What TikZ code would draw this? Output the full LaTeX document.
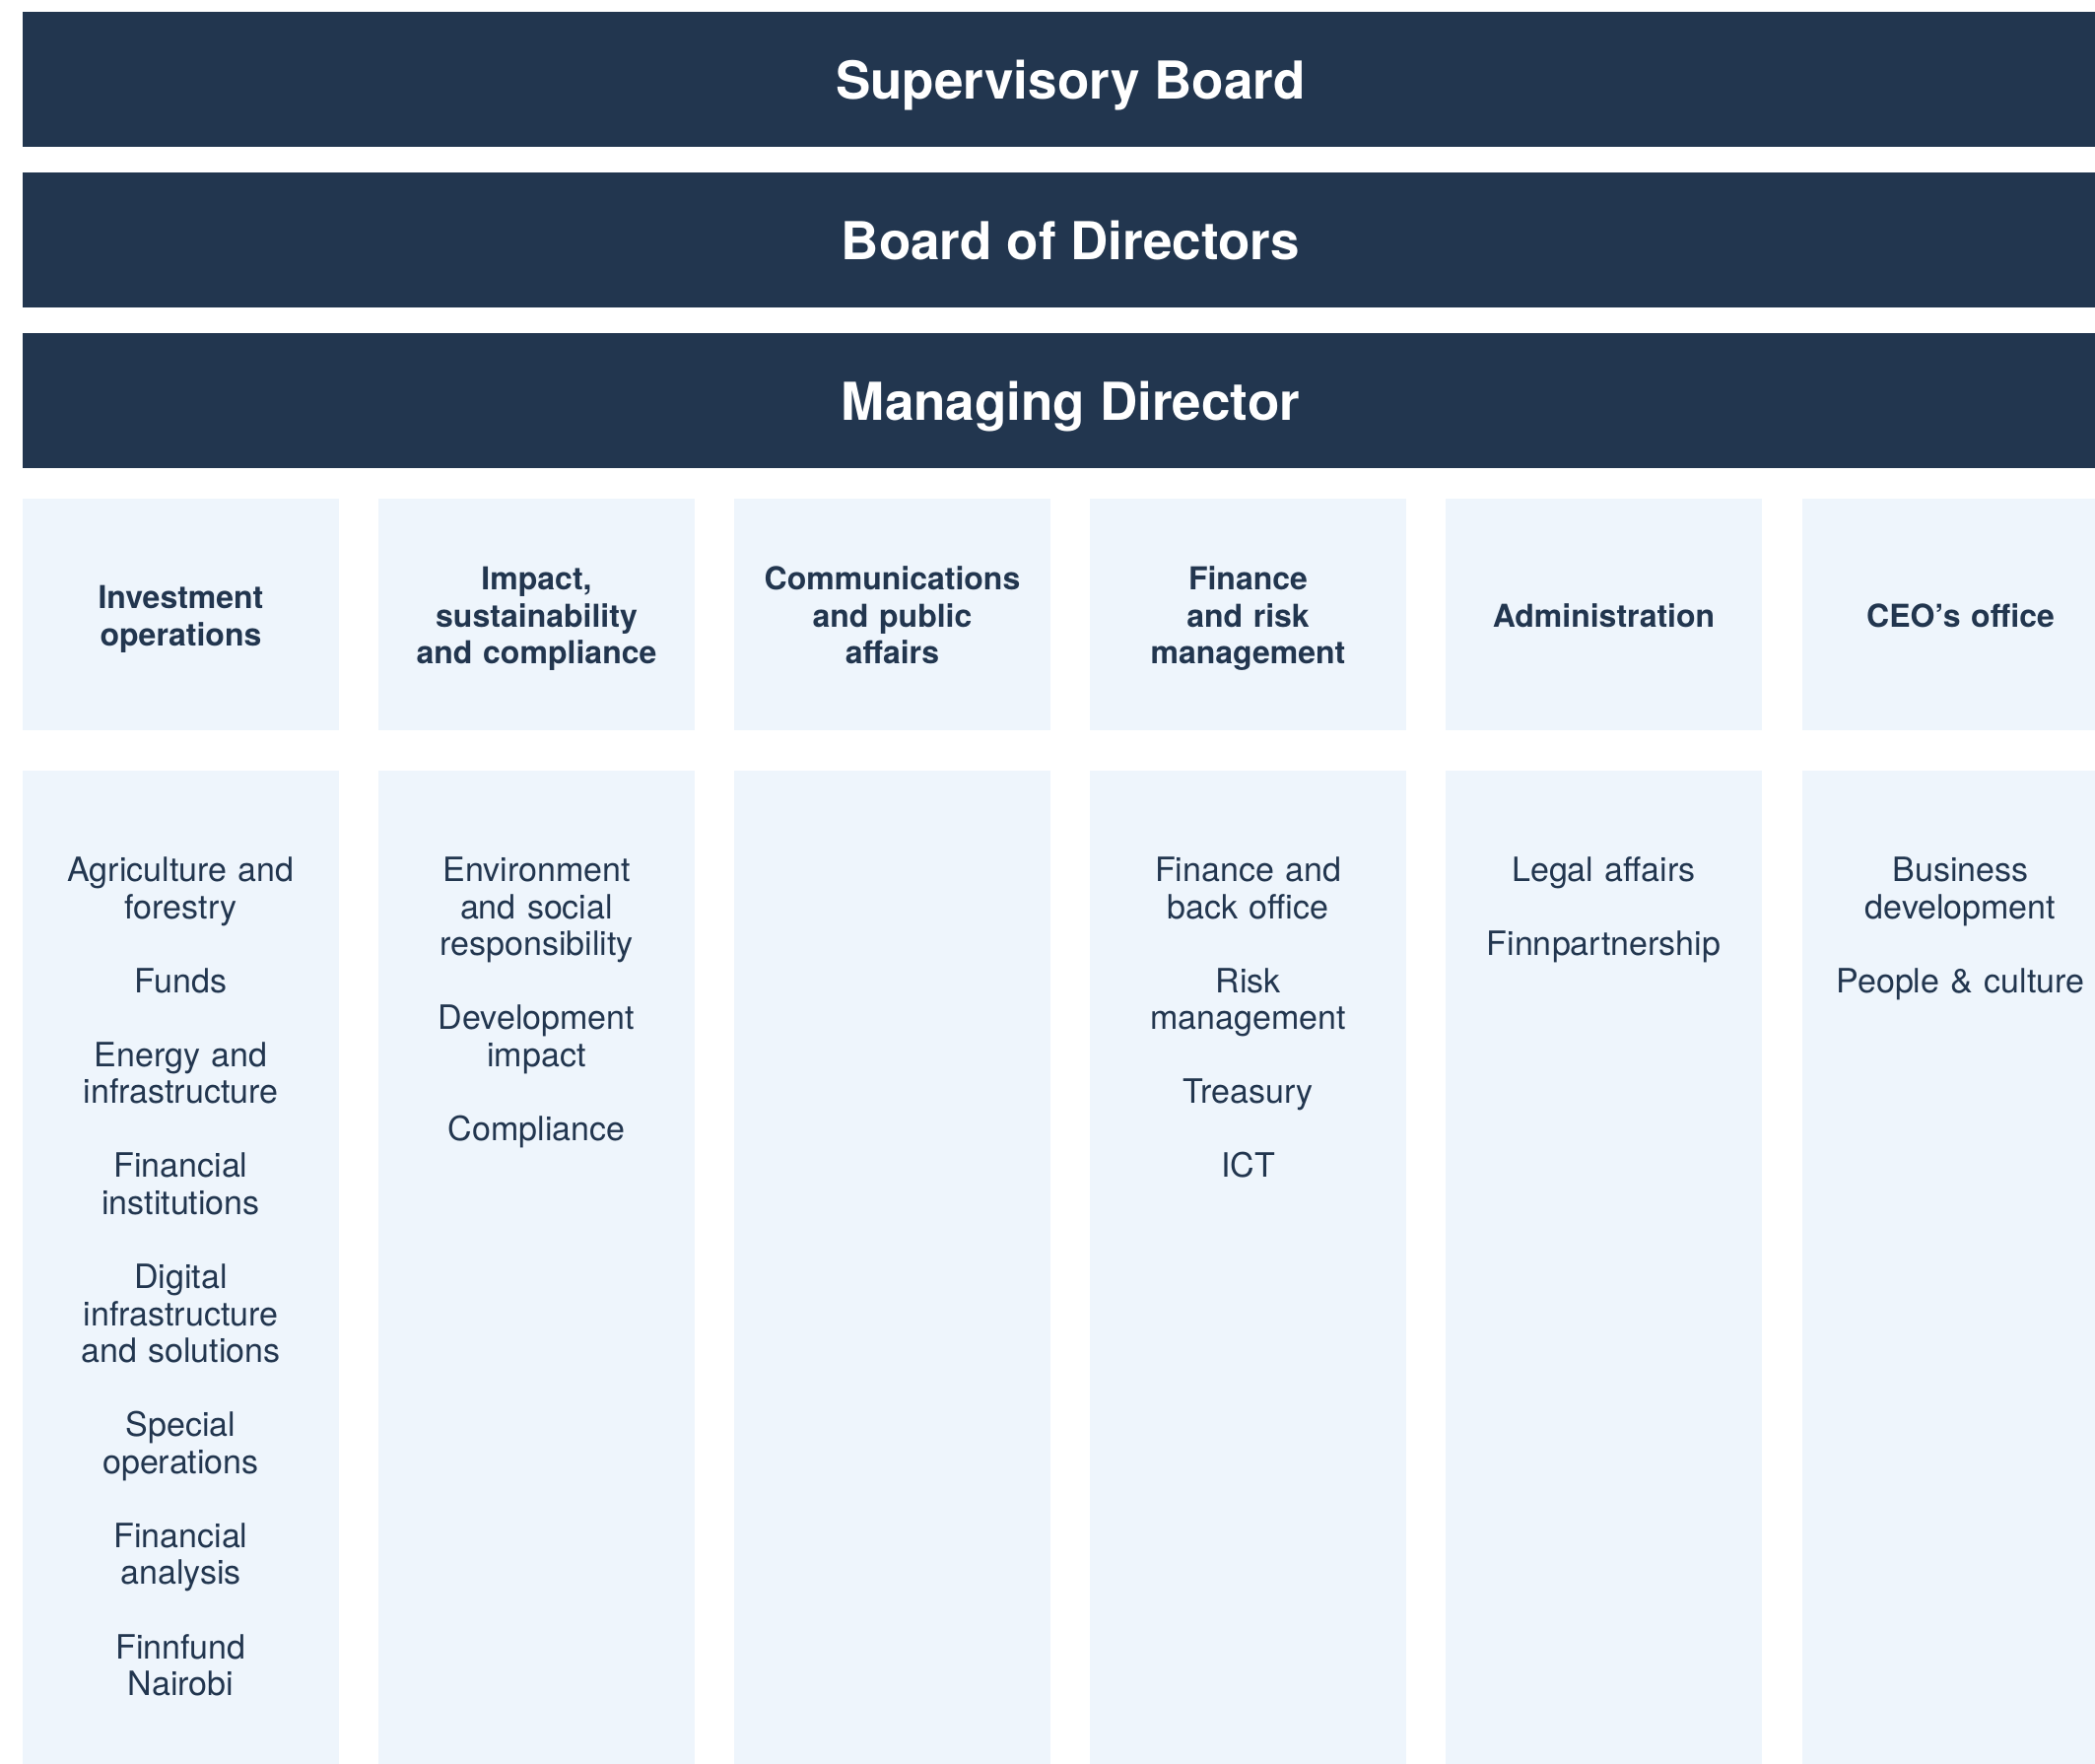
\documentclass[tikz,border=0pt]{standalone}
\usepackage{fontspec}
\setmainfont{TeX Gyre Heros}
\definecolor{navy}{HTML}{22364F}
\definecolor{pale}{HTML}{EEF5FC}
\begin{document}
\begin{tikzpicture}[x=1pt,y=-1pt,
  bar/.style={fill=navy, draw=none, inner sep=0pt, outer sep=0pt, minimum width=2127pt, minimum height=137pt},
  bartext/.style={text=white, font=\fontsize{53}{60}\selectfont\bfseries, anchor=base, inner sep=0pt},
  cell/.style={fill=pale, draw=none, inner sep=0pt, outer sep=0pt, minimum width=321pt},
  hdrtext/.style={text=navy, font=\fontsize{32}{37.5}\selectfont\bfseries, anchor=base, inner sep=0pt, text width=321pt, align=center},
  listtext/.style={text=navy, font=\fontsize{34}{37.55}\selectfont, anchor=base, inner sep=0pt, text width=321pt, align=center}
]
\useasboundingbox (0,0) rectangle (2126,1790);
\clip (0,0) rectangle (2126,1790);

% top bars
\node[bar] (sb) at (1086.5,80.5) {};
\node[bar] (bd) at (1086.5,243.5) {};
\node[bar] (md) at (1086.5,406.5) {};
\node[bartext] (sbt) at (1086.5,100.5) {Supervisory Board};
\node[bartext] (bdt) at (1086.5,263.5) {Board of Directors};
\node[bartext] (mdt) at (1086.5,426.5) {Managing Director};

% header cells
\node[cell, minimum height=235pt] (h1) at (183.5,623.5) {};
\node[cell, minimum height=235pt] (h2) at (544.5,623.5) {};
\node[cell, minimum height=235pt] (h3) at (905.5,623.5) {};
\node[cell, minimum height=235pt] (h4) at (1266.5,623.5) {};
\node[cell, minimum height=235pt] (h5) at (1627.5,623.5) {};
\node[cell, minimum height=235pt] (h6) at (1989.5,623.5) {};

\node[hdrtext] (h1t) at (183.5,617.5) {Investment\\operations};
\node[hdrtext] (h2t) at (544.5,598.8) {Impact,\\sustainability\\and compliance};
\node[hdrtext] (h3t) at (905.5,598.8) {Communications\\and public\\affairs};
\node[hdrtext] (h4t) at (1266.5,598.8) {Finance\\and risk\\management};
\node[hdrtext] (h5t) at (1627.5,636) {Administration};
\node[hdrtext] (h6t) at (1989.5,636) {CEO’s office};

% list cells
\node[cell, minimum height=1018pt] (c1) at (183.5,1291) {};
\node[cell, minimum height=1018pt] (c2) at (544.5,1291) {};
\node[cell, minimum height=1018pt] (c3) at (905.5,1291) {};
\node[cell, minimum height=1018pt] (c4) at (1266.5,1291) {};
\node[cell, minimum height=1018pt] (c5) at (1627.5,1291) {};
\node[cell, minimum height=1018pt] (c6) at (1989.5,1291) {};

\node[listtext] (c1t) at (183.5,894.5) {Agriculture and\\forestry\\[37.55pt]Funds\\[37.55pt]Energy and\\infrastructure\\[37.55pt]Financial\\institutions\\[37.55pt]Digital\\infrastructure\\and solutions\\[37.55pt]Special\\operations\\[37.55pt]Financial\\analysis\\[37.55pt]Finnfund\\Nairobi};
\node[listtext] (c2t) at (544.5,894.5) {Environment\\and social\\responsibility\\[37.55pt]Development\\impact\\[37.55pt]Compliance};
\node[listtext] (c4t) at (1266.5,894.5) {Finance and\\back office\\[37.55pt]Risk\\management\\[37.55pt]Treasury\\[37.55pt]ICT};
\node[listtext] (c5t) at (1627.5,894.5) {Legal affairs\\[37.55pt]Finnpartnership};
\node[listtext] (c6t) at (1989.5,894.5) {Business\\development\\[37.55pt]People \& culture};
\end{tikzpicture}
\end{document}
